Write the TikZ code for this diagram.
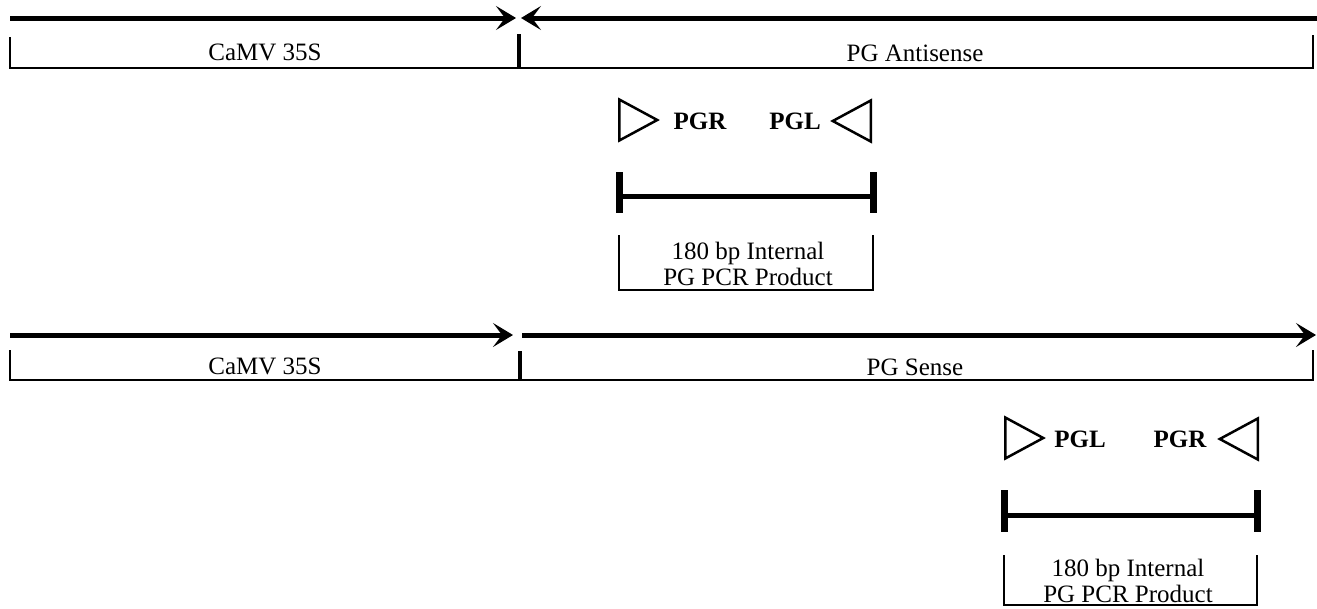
\documentclass[tikz,border=0pt]{standalone}
\usepackage{fontspec}
\setmainfont{Liberation Serif}
\usetikzlibrary{arrows.meta,shapes.geometric}

\begin{document}
\begin{tikzpicture}[x=1pt,y=-1pt,
	strand/.style={line width=5pt,-{Stealth[length=20pt,width=24pt,inset=9pt]}},
	region/.style={line width=1.6pt},
	junction/.style={line width=4pt},
	primer/.style={isosceles triangle,draw,line width=2.5pt,inner sep=0pt,anchor=lower side,
		minimum height=38pt,minimum width=41pt,isosceles triangle stretches},
	product/.style={line width=5pt},
	prodtick/.style={line width=7pt},
	label/.style={font=\fontsize{25}{26}\selectfont},
	plabel/.style={font=\fontsize{25}{26}\selectfont\bfseries}]
	\useasboundingbox[fill=white] (0,0) rectangle (1317,608);

	% antisense construct
	\coordinate (A0) at (10,18);
	\coordinate (A1) at (516,18);
	\coordinate (A2) at (1317,18);
	\coordinate (A3) at (521,18);
	\draw [strand] (A0) -- (A1);
	\draw [strand] (A2) -- (A3);
	\coordinate (B0) at (10,37);
	\coordinate (B1) at (519,34);
	\coordinate (B2) at (1313,35);
	\draw [region] (B0) -- (10,68) -- (1313,68) -- (B2);
	\draw [junction] (B1) -- (519,68);
	\begin{scope}[every node/.style={label}]
	\node (P1) at (265,52) {CaMV 35S};
	\node (S1) at (915,53) {PG Antisense};
	\end{scope}
	\node [primer] (T1) at (618,120) {};
	\node [primer,shape border rotate=180] (T2) at (872,121) {};
	\node [plabel] (L1) at (700,121) {PGR};
	\node [plabel] (L2) at (795,121) {PGL};
	\coordinate (C0) at (619,196);
	\coordinate (C1) at (873,196);
	\draw [product] (C0) -- (C1);
	\draw [prodtick] (619,172) -- (619,213);
	\draw [prodtick] (873,172) -- (873,213);
	\node [label,align=center,inner sep=0pt] (R1) at (748,264) {180 bp Internal\\PG PCR Product};
	\draw [region] (619,235) -- (619,290) -- (873,290) -- (873,235);

	% sense construct
	\coordinate (D0) at (10,335);
	\coordinate (D1) at (513,335);
	\coordinate (D2) at (522,335);
	\coordinate (D3) at (1316,335);
	\draw [strand] (D0) -- (D1);
	\draw [strand] (D2) -- (D3);
	\coordinate (E0) at (10,350);
	\coordinate (E1) at (520,351);
	\coordinate (E2) at (1313,350);
	\draw [region] (E0) -- (10,380) -- (1313,380) -- (E2);
	\draw [junction] (E1) -- (520,380);
	\begin{scope}[every node/.style={label}]
	\node (P2) at (265,366) {CaMV 35S};
	\node (S2) at (915,367) {PG Sense};
	\end{scope}
	\node [primer] (T3) at (1004,438) {};
	\node [primer,shape border rotate=180] (T4) at (1259,439) {};
	\node [plabel] (L3) at (1080,439) {PGL};
	\node [plabel] (L4) at (1180,439) {PGR};
	\coordinate (F0) at (1004,515);
	\coordinate (F1) at (1257,515);
	\draw [product] (F0) -- (F1);
	\draw [prodtick] (1004,490) -- (1004,532);
	\draw [prodtick] (1257,490) -- (1257,532);
	\node [label,align=center,inner sep=0pt] (R2) at (1128,581) {180 bp Internal\\PG PCR Product};
	\draw [region] (1004,555) -- (1004,605) -- (1257,605) -- (1257,555);
\end{tikzpicture}
\end{document}
